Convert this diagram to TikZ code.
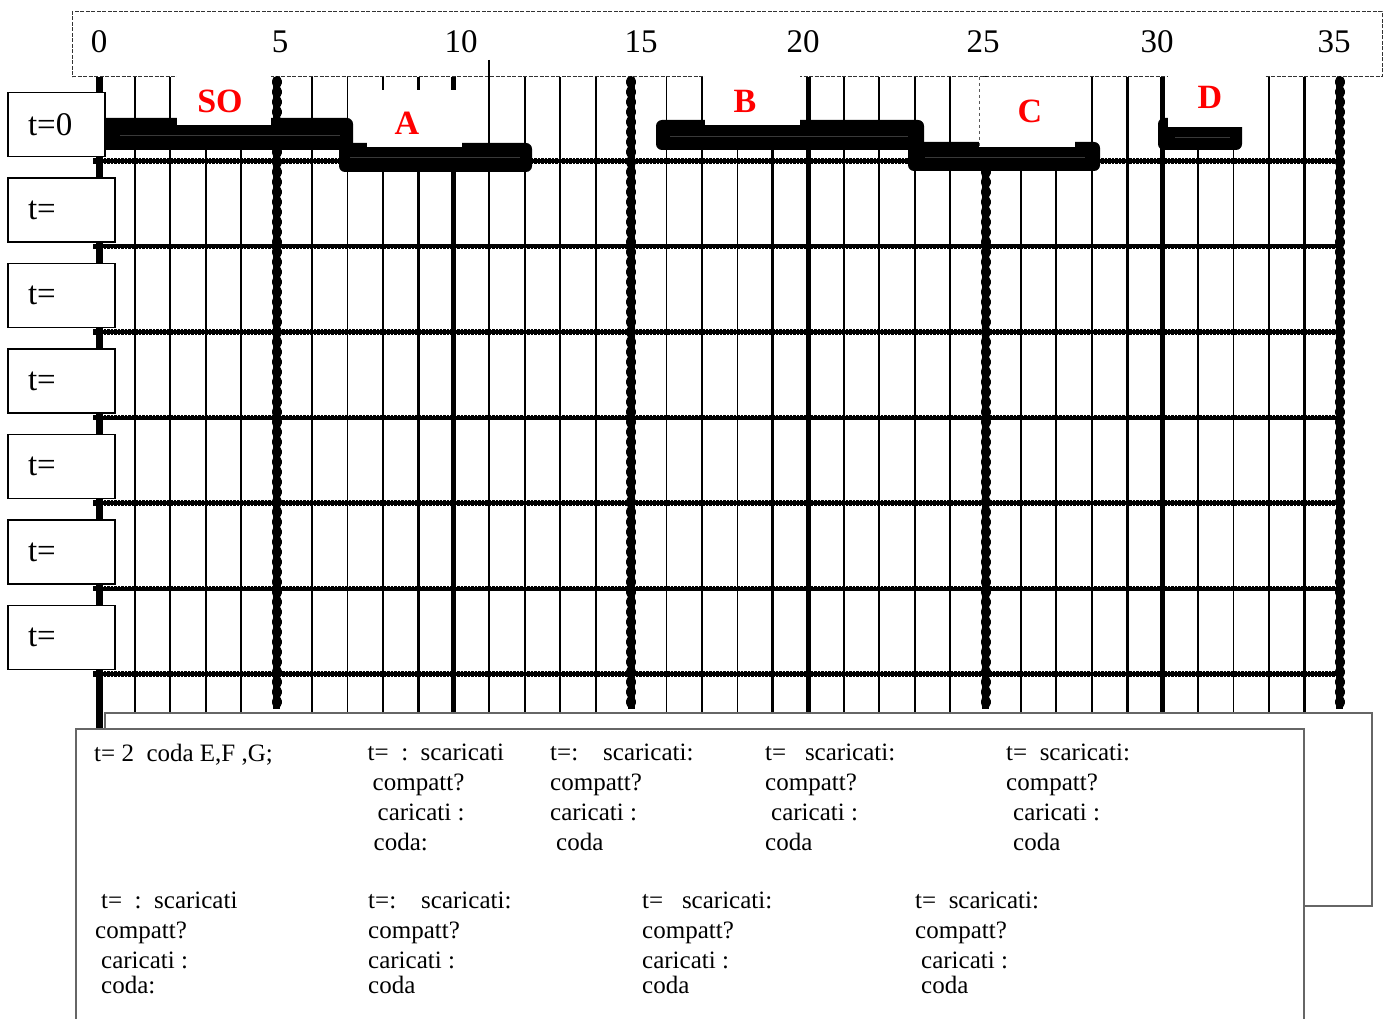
\documentclass[tikz,border=0pt]{standalone}
\usepackage{fontspec}
\setmainfont{Liberation Serif}
\usetikzlibrary{positioning}

\begin{document}
\begin{tikzpicture}[
        x=1pt, y=-1pt,
        vthin/.style={line width=1.8pt},
        vmid/.style={line width=3pt},
        vthick/.style={line width=5pt},
        vdot/.style={line width=10pt, line cap=round, dash pattern=on 2pt off 8pt, preaction={draw, solid, line cap=butt, line width=7pt}},
        hdot/.style={line width=5.5pt, dash pattern=on 2.5pt off 1pt, preaction={draw, solid, line width=4pt}},
        bar/.style={fill=black, rounded corners=6pt},
        barmid/.style={draw=gray!45!black, line width=0.8pt},
        blank/.style={fill=white, inner sep=0pt},
        lbl/.style={inner sep=0pt, text=red, font=\fontsize{34}{40}\selectfont\bfseries},
        tbox/.style={draw, fill=white, line width=1.3pt, minimum height=64pt, inner xsep=20pt, text width=67pt, align=left, font=\fontsize{33}{38}\selectfont},
        axnum/.style={inner sep=0pt, font=\fontsize{33}{38}\selectfont},
        note/.style={anchor=north west, inner sep=0pt, align=left, font=\fontsize{25}{30}\selectfont},
        panel/.style={draw=gray!80!black, fill=white, line width=1.2pt, inner sep=0pt},
    ]
    \clip (0,0) rectangle (1387,1019);

    % time axis
    \node[draw=black!80, dash pattern=on 4pt off 1.5pt, line width=1pt, minimum width=1310pt, minimum height=65pt] (axisbox) at (727,44.5) {};
    \foreach \n/\xx in {0/99,5/280,10/461,15/641,20/803,25/983,30/1157,35/1334}
        \node[axnum] (tick\n) at (\xx,42) {\n};

    % grid
    \foreach \i in {1,2,3,4,6,7,8,12,13,14,16,17,18,21,22,23,24,26,27,28,31,32,33}
        \draw[vthin] (99.5+35.44*\i,77) -- (99.5+35.44*\i,713);
    \draw[vthin] (99.5+35.44*11,60) -- (99.5+35.44*11,713);
    \foreach \i in {9,19,29,34}
        \draw[vmid] (99.5+35.44*\i,77) -- (99.5+35.44*\i,713);
    \foreach \i in {10,20,30}
        \draw[vthick] (99.5+35.44*\i,77) -- (99.5+35.44*\i,713);
    \foreach \i in {5,15,25,35}
        \draw[vdot] (99.5+35.44*\i,81) -- (99.5+35.44*\i,709);
    \draw[line width=7pt] (99.5,77) -- (99.5,729);
    \foreach \j in {0,...,6}
        \draw[hdot] (93,161+85.5*\j) -- (1338,161+85.5*\j);

    % bars
    \fill[bar] (100,118) rectangle (353,150);
    \fill[bar] (339,143) rectangle (532,172);
    \fill[bar] (656,120) rectangle (924,150);
    \fill[bar] (908,142) rectangle (1100,171);
    \fill[bar] (1158,118) rectangle (1242,150);
    \draw[barmid] (120,135) -- (340,135);
    \draw[barmid] (350,157) -- (520,157);
    \draw[barmid] (670,136) -- (908,136);
    \draw[barmid] (925,157) -- (1085,157);
    \draw[barmid] (1175,137) -- (1230,137);

    % labels
    \node[blank, minimum width=94pt, minimum height=55pt] (boxSO) at (224,97.5) {};
    \node[blank, minimum width=95pt, minimum height=57pt] (boxA) at (414.5,118.5) {};
    \node[blank, minimum width=95pt, minimum height=55pt] (boxB) at (752.5,97.5) {};
    \node[blank, minimum width=96pt, minimum height=70pt] (boxC) at (1027,112) {};
    \node[blank, minimum width=97pt, minimum height=62pt] (boxD) at (1216.5,96) {};
    \draw[dashed, gray!70!black, line width=0.6pt] (boxC.north west) -- (boxC.south west);
    \node[lbl] (lblSO) at (220,101) {SO};
    \node[lbl] (lblA) at (407,123) {A};
    \node[lbl] (lblB) at (745,101) {B};
    \node[lbl] (lblC) at (1030,111) {C};
    \node[lbl] (lblD) at (1210,97) {D};

    % time boxes
    \node[tbox, minimum width=97pt, text width=57pt] (t0) at (56.5,124.5) {t=0};
    \foreach \k in {1,...,6}
        \node[tbox] (t\k) at (61.5,210+85.5*\k-85.5) {t=};

    % notes
    \node[panel, minimum width=1267pt, minimum height=193pt] (back) at (738.5,809.5) {};
    \node[panel, minimum width=1228pt, minimum height=301pt] (front) at (690,879.5) {};

    \node[note] (n1) at (94,744) {t=\ 2\ \ coda E,F ,G;};
    \node[note] (n2) at (367.5,744) {t=\ \ :\ \ scaricati\\ \hspace*{5pt}compatt?\\ \hspace*{10pt}caricati :\\ \hspace*{6pt}coda:};
    \node[note] (n3) at (550,744) {t=:\ \ \ \ scaricati:\\ compatt?\\ caricati :\\ \hspace*{6pt}coda};
    \node[note] (n4) at (765,744) {t=\ \ \ scaricati:\\ compatt?\\ \hspace*{6pt}caricati :\\ coda};
    \node[note] (n5) at (1006,744) {t=\ \ scaricati:\\ compatt?\\ \hspace*{7pt}caricati :\\ \hspace*{7pt}coda};
    \node[note] (n6) at (95,892) {\hspace*{6pt}t=\ \ :\ \ scaricati\\ compatt?\\ \hspace*{6pt}caricati :\\[-5pt] \hspace*{6pt}coda:};
    \node[note] (n7) at (368,892) {t=:\ \ \ \ scaricati:\\ compatt?\\ caricati :\\[-5pt] coda};
    \node[note] (n8) at (642,892) {t=\ \ \ scaricati:\\ compatt?\\ caricati :\\[-5pt] coda};
    \node[note] (n9) at (915,892) {t=\ \ scaricati:\\ compatt?\\ \hspace*{6pt}caricati :\\[-5pt] \hspace*{6pt}coda};
\end{tikzpicture}
\end{document}
